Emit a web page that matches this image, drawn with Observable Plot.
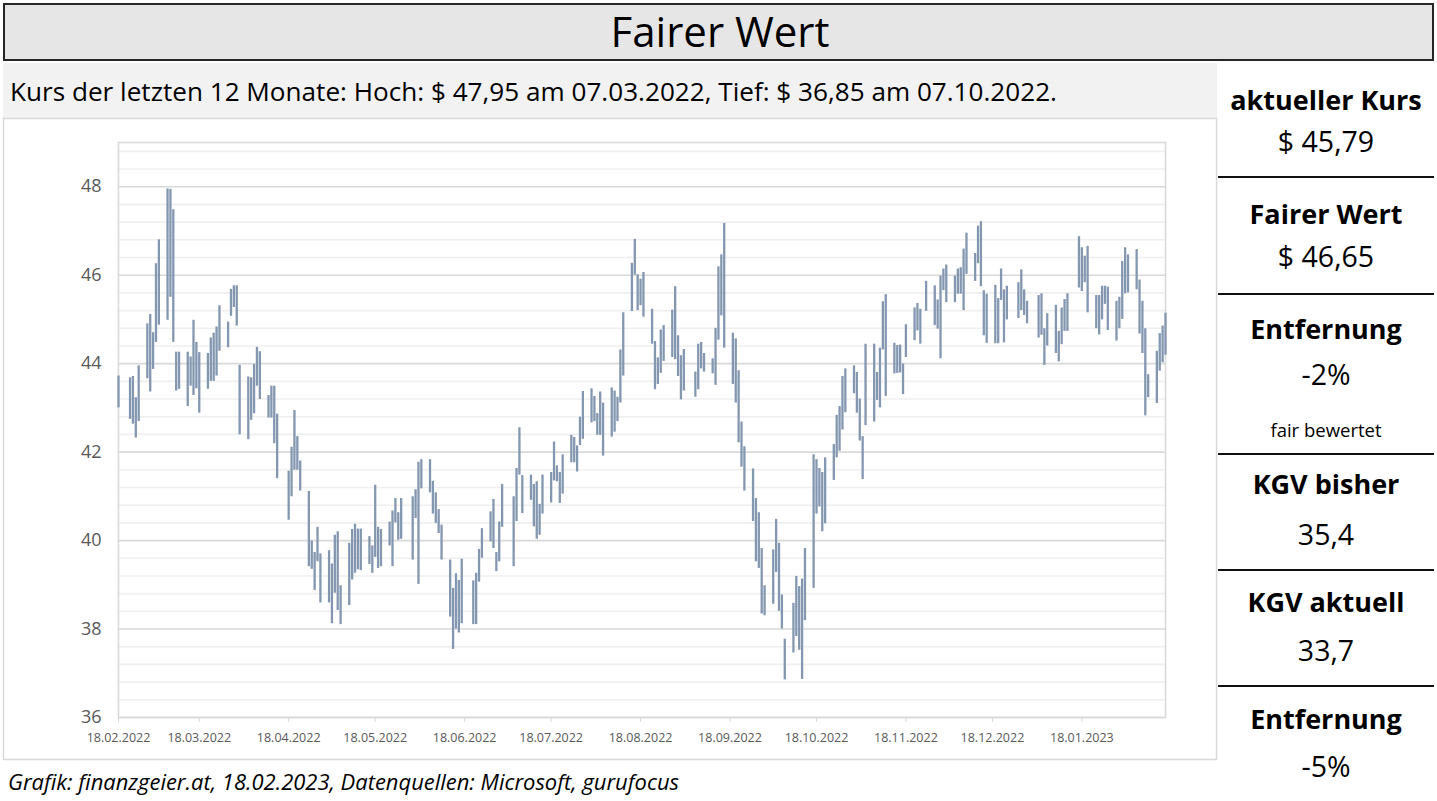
<!DOCTYPE html>
<html>
<head>
<meta charset="utf-8">
<script src="https://cdn.jsdelivr.net/npm/d3@7"></script>
<script src="https://cdn.jsdelivr.net/npm/@observablehq/plot@0.6"></script>
<style>
  html, body { margin: 0; padding: 0; background: #ffffff; }
  body { width: 1437px; height: 801px; position: relative; overflow: hidden; font-family: "Open Sans", sans-serif; }
  #overlay { position: absolute; left: 0; top: 0; }
  #chart { position: absolute; left: 3px; top: 118px; }
</style>
</head>
<body>
<svg id="overlay" width="1437" height="801"></svg>
<div id="chart"></div>
<script>
// ---------- DATA ----------
const titleText = "Fairer Wert";
const subtitleText = "Kurs der letzten 12 Monate: Hoch: $ 47,95 am 07.03.2022, Tief: $ 36,85 am 07.10.2022.";
const captionText = "Grafik: finanzgeier.at, 18.02.2023, Datenquellen: Microsoft, gurufocus";

const panelLabels = ["aktueller Kurs", "Fairer Wert", "Entfernung", "KGV bisher", "KGV aktuell", "Entfernung"];
const panelValues = ["$ 45,79", "$ 46,65", "-2%", "35,4", "33,7", "-5%"];
const panelNote = "fair bewertet";

const yTicks = [36, 38, 40, 42, 44, 46, 48];
const xTickLabels = ["18.02.2022","18.03.2022","18.04.2022","18.05.2022","18.06.2022","18.07.2022",
                     "18.08.2022","18.09.2022","18.10.2022","18.11.2022","18.12.2022","18.01.2023"];

// trading period and exchange holidays (no bar on these days)
const firstDay = "2022-02-18";
const lastDay = "2023-02-16";
const holidays = ["2022-02-21","2022-04-15","2022-05-30","2022-06-20","2022-07-04",
                  "2022-09-05","2022-11-24","2022-12-26","2023-01-02","2023-01-16"];

// daily highs, one line per trading week
const highs = [
  43.72,
  43.68, 43.71, 43.23, 43.95,
  44.90, 45.11, 44.70, 46.26, 46.80,
  47.95, 47.94, 47.48, 44.26, 44.26,
  44.26, 44.15, 44.98, 44.48, 44.25,
  44.23, 44.58, 44.69, 44.83, 45.31,
  44.94, 45.68, 45.76, 45.76, 43.96,
  43.70, 43.68, 43.98, 44.37, 44.27,
  43.28, 43.49, 43.49, 42.86,
  41.57, 42.11, 42.94, 42.35, 41.80,
  41.11, 39.99, 39.73, 40.30, 39.70,
  39.77, 39.47, 40.12, 40.20, 38.98,
  39.94, 40.25, 40.37, 40.26, 40.26,
  40.09, 39.88, 41.25, 40.30, 40.25,
  40.42, 40.67, 40.95, 40.63, 40.95,
  40.99, 41.15, 41.77, 41.83,
  41.83, 41.34, 41.08, 40.70, 40.35,
  39.56, 38.92, 39.25, 39.10, 39.58,
  39.09, 39.26, 39.80, 40.27,
  40.65, 40.93, 39.73, 40.42, 41.27,
  40.99, 41.63, 42.55, 41.47,
  41.48, 41.27, 41.33, 40.82, 41.48,
  41.54, 42.23, 41.69, 41.54, 41.94,
  42.38, 42.33, 42.14, 42.79, 43.37,
  43.43, 43.26, 42.87, 43.36, 43.11,
  43.45, 43.38, 43.24, 44.31, 45.15,
  46.27, 46.81, 46.01, 45.91, 46.06,
  45.23, 44.50, 44.13, 44.76, 44.86,
  45.21, 45.74, 44.63, 44.18, 44.32,
  43.81, 44.44, 44.48, 44.23,
  44.11, 44.80, 46.19, 46.46, 47.17,
  44.69, 44.56, 43.84, 42.68, 42.12,
  41.62, 40.95, 40.63, 39.82, 38.98,
  39.79, 40.48, 39.94, 38.77, 37.77,
  38.58, 39.19, 38.96, 39.13, 39.82,
  41.94, 41.83, 41.63, 41.54, 41.87,
  42.17, 42.83, 43.03, 43.71, 43.88,
  43.95, 43.80, 43.20, 42.35, 44.44,
  44.44, 43.80, 44.35, 45.40, 45.56,
  44.46, 44.41, 44.42, 43.99, 44.88,
  45.26, 45.36, 45.23, 45.86,
  45.76, 45.44, 45.98, 46.14, 46.23,
  45.98, 46.14, 46.17, 46.59, 46.95,
  46.49, 47.11, 47.21, 45.65, 45.57,
  45.77, 45.47, 46.14, 45.67, 45.75,
  45.83, 46.12, 45.67, 45.41,
  45.54, 45.58, 44.79, 45.13,
  45.32, 44.73, 45.26, 45.45, 45.58,
  46.87, 46.62, 46.43, 46.65,
  45.54, 45.54, 45.75, 45.75, 45.73,
  45.41, 45.50, 46.31, 46.62, 46.46,
  46.58, 45.89, 45.41, 44.79, 43.75,
  44.28, 44.68, 44.85, 45.14
];

// daily lows, one line per trading week
const lows = [
  43.00,
  42.74, 42.63, 42.32, 42.69,
  43.66, 43.36, 43.87, 44.48, 44.87,
  44.98, 45.50, 44.48, 43.38, 43.42,
  43.03, 43.49, 43.28, 43.43, 42.88,
  43.42, 43.60, 43.60, 43.72, 44.28,
  44.36, 45.07, 45.27, 44.85, 42.39,
  42.28, 42.72, 42.87, 43.49, 43.19,
  42.77, 42.77, 42.19, 41.40,
  40.46, 40.99, 41.59, 41.59, 41.12,
  39.41, 39.35, 38.87, 39.52, 38.59,
  38.59, 38.12, 38.81, 38.42, 38.10,
  38.53, 39.11, 39.26, 39.34, 39.32,
  39.46, 39.26, 39.62, 39.37, 39.41,
  39.88, 39.41, 40.40, 40.01, 40.03,
  39.56, 40.50, 39.01, 41.17,
  41.08, 40.60, 40.39, 40.16, 39.56,
  38.27, 37.54, 38.00, 37.91, 38.12,
  38.10, 38.10, 39.06, 39.60,
  39.97, 39.82, 39.30, 39.52, 40.30,
  39.41, 40.43, 41.48, 40.61,
  40.91, 40.31, 40.03, 40.12, 40.60,
  40.85, 41.35, 41.33, 40.84, 41.05,
  41.76, 41.76, 41.55, 42.15, 42.29,
  42.66, 42.69, 42.38, 42.38, 41.91,
  42.34, 42.45, 42.69, 43.11, 43.72,
  45.18, 46.00, 45.20, 45.31, 45.05,
  44.44, 43.41, 43.53, 43.78, 44.05,
  44.14, 44.09, 43.71, 43.18, 43.38,
  43.24, 43.41, 43.88, 43.81,
  43.77, 43.51, 44.53, 45.08, 44.35,
  43.53, 43.11, 42.21, 41.66, 41.12,
  40.43, 39.52, 39.37, 38.34, 38.30,
  38.56, 39.28, 38.40, 38.00, 36.85,
  37.46, 37.83, 37.52, 36.86, 38.19,
  38.92, 40.60, 40.76, 40.20, 40.38,
  41.36, 41.87, 42.02, 42.50, 42.89,
  43.32, 42.88, 42.25, 41.38, 42.60,
  42.68, 43.17, 43.00, 44.31, 43.26,
  43.77, 43.78, 43.79, 43.30, 44.14,
  44.52, 44.74, 44.44, 45.18,
  44.86, 44.78, 44.11, 45.65, 45.38,
  45.38, 45.57, 45.57, 45.20, 46.02,
  45.86, 46.26, 45.74, 44.63, 44.46,
  44.45, 44.45, 45.43, 44.47, 44.99,
  45.02, 45.20, 45.09, 44.90,
  44.58, 44.64, 43.96, 44.40,
  44.23, 44.04, 44.43, 44.73, 44.73,
  45.71, 45.63, 45.83, 45.15,
  44.79, 44.65, 44.99, 45.34, 44.75,
  44.51, 44.79, 45.00, 45.58, 45.60,
  45.67, 44.67, 44.23, 42.82, 43.23,
  43.10, 43.83, 44.02, 44.19
];

// ---------- BUILD TABLE ----------
const holidaySet = new Set(holidays);
const tradingDays = [];
for (let d = new Date(firstDay + "T00:00:00Z"); d <= new Date(lastDay + "T00:00:00Z"); d = new Date(d.getTime() + 86400000)) {
  const wd = d.getUTCDay();
  const iso = d.toISOString().slice(0, 10);
  if (wd !== 0 && wd !== 6 && !holidaySet.has(iso)) tradingDays.push(new Date(d));
}
if (tradingDays.length !== highs.length || highs.length !== lows.length) {
  console.error("length mismatch", tradingDays.length, highs.length, lows.length);
}
const bars = tradingDays.map((date, i) => ({date, high: highs[i], low: lows[i]}));

const parseDE = s => { const [dd, mm, yy] = s.split("."); return new Date(Date.UTC(+yy, +mm - 1, +dd)); };
const xTicks = xTickLabels.map(parseDE);
const fmtDE = d3.utcFormat("%d.%m.%Y");

// gridline positions
const majorGrid = yTicks;
const minorGrid = d3.range(36.4, 49.0001, 0.4).map(v => +v.toFixed(1)).filter(v => Math.abs(v / 2 - Math.round(v / 2)) > 1e-6);

// ---------- PLOT ----------
const chart = Plot.plot({
  width: 1213,
  height: 642,
  marginLeft: 115,
  marginRight: 51,
  marginTop: 24,
  marginBottom: 43,
  style: {background: "transparent", fontFamily: "'Open Sans', sans-serif", overflow: "visible"},
  x: {type: "utc", domain: [new Date(firstDay + "T00:00:00Z"), new Date(lastDay + "T00:00:00Z")]},
  y: {domain: [36, 49]},
  marks: [
    Plot.ruleY(minorGrid, {stroke: "#efefef", strokeWidth: 1.6}),
    Plot.ruleY(majorGrid, {stroke: "#d9d9d9", strokeWidth: 1.6}),
    Plot.frame({stroke: "#d9d9d9", strokeWidth: 1.6}),
    Plot.ruleX(bars, {x: "date", y1: "low", y2: "high", stroke: "#8497b0", strokeWidth: 2.3}),
    Plot.axisY(yTicks, {tickSize: 0, tickPadding: 17, fontSize: 18, fill: "#595959", tickFormat: d => String(d)}),
    Plot.axisX(xTicks, {tickSize: 5, tickPadding: 11, fontSize: 12.5, fill: "#595959", stroke: "#d9d9d9", tickFormat: fmtDE})
  ]
});
document.getElementById("chart").appendChild(chart);

// ---------- FRAME, TITLE, PANEL ----------
const svg = d3.select("#overlay");
// title box
svg.append("rect").attr("x", 4).attr("y", 4).attr("width", 1429).attr("height", 56)
  .attr("fill", "#e6e6e6").attr("stroke", "#262626").attr("stroke-width", 2);
svg.append("text").attr("x", 720).attr("y", 47).attr("text-anchor", "middle")
  .attr("font-size", 42).attr("fill", "#000").text(titleText);
// subtitle band
svg.append("rect").attr("x", 3).attr("y", 63).attr("width", 1214).attr("height", 55).attr("fill", "#f2f2f2");
svg.append("text").attr("x", 10).attr("y", 101).attr("font-size", 25)
  .attr("textLength", 1047).attr("lengthAdjust", "spacingAndGlyphs")
  .attr("fill", "#000").text(subtitleText);
// chart box
svg.append("rect").attr("x", 3.5).attr("y", 118.5).attr("width", 1213).attr("height", 641)
  .attr("fill", "#fff").attr("stroke", "#d9d9d9").attr("stroke-width", 1.5);
// caption
svg.append("text").attr("x", 8).attr("y", 790).attr("font-size", 22).attr("font-style", "italic")
  .attr("textLength", 671).attr("lengthAdjust", "spacingAndGlyphs")
  .attr("fill", "#000").text(captionText);

// right panel
const cx = 1326;
const labelBase = [110, 224, 339, 494, 612, 729];
const valueBase = [152, 267, 385, 545, 661, 777];
const sepY = [177, 294, 454, 570, 686];
panelLabels.forEach((t, i) => {
  svg.append("text").attr("x", cx).attr("y", labelBase[i]).attr("text-anchor", "middle")
    .attr("font-size", 27).attr("font-weight", "bold").attr("fill", "#000").text(t);
});
panelValues.forEach((t, i) => {
  svg.append("text").attr("x", cx).attr("y", valueBase[i]).attr("text-anchor", "middle")
    .attr("font-size", 28.5).attr("fill", "#000").text(t);
});
svg.append("text").attr("x", cx).attr("y", 437).attr("text-anchor", "middle")
  .attr("font-size", 18.5).attr("fill", "#000").text(panelNote);
sepY.forEach(y => {
  svg.append("line").attr("x1", 1218).attr("x2", 1434).attr("y1", y).attr("y2", y)
    .attr("stroke", "#111").attr("stroke-width", 2.2);
});
</script>
</body>
</html>
